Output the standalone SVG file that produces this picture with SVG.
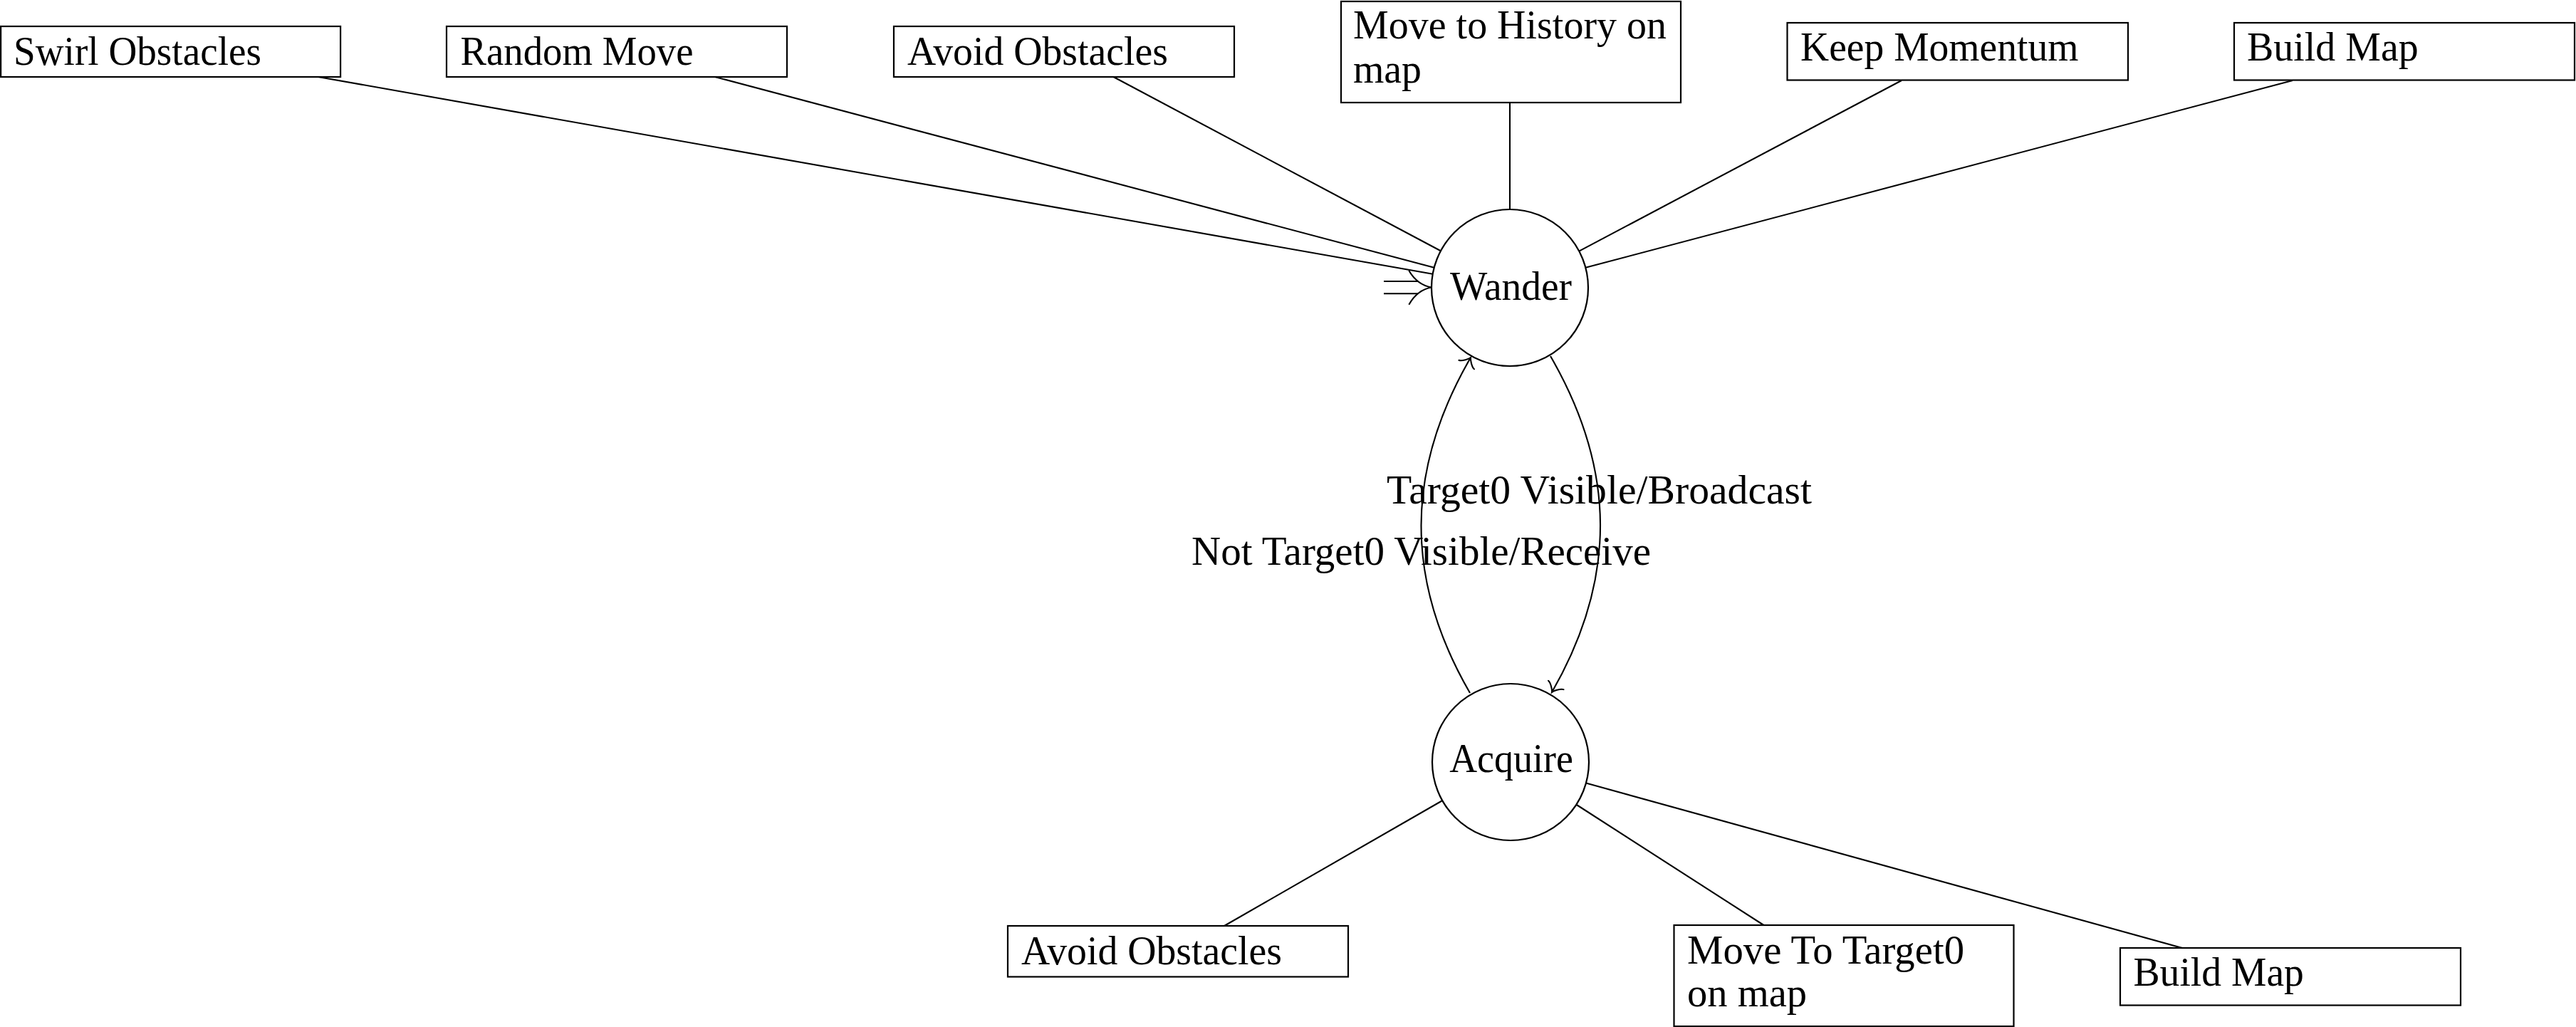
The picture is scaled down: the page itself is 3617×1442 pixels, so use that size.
<svg xmlns="http://www.w3.org/2000/svg" width="3617" height="1442" viewBox="0 0 3617 1442">
  <style>
    .box { fill: #fff; stroke: #000; stroke-width: 2.2; }
    .state { fill: #fff; stroke: #000; stroke-width: 2.2; }
    .t { font-family: "Liberation Serif", "DejaVu Serif", serif; font-size: 56px; fill: #000; }
    .mid { text-anchor: middle; }
    .edge { fill: none; stroke: #000; stroke-width: 2.1; }
  </style>
  <defs>
    <marker id="to" markerUnits="userSpaceOnUse" markerWidth="40" markerHeight="40" viewBox="-20 -20 40 40" refX="0" refY="0" orient="auto" overflow="visible">
      <path d="M-11.6,-12.4 C-10.9,-7.75 -2.3,-0.8 0,0 C-2.3,0.8 -10.9,7.75 -11.6,12.4" fill="none" stroke="#000" stroke-width="2.1" stroke-linecap="round"/>
    </marker>
  </defs>
  <rect width="3617" height="1442" fill="#fff"/>

  <g id="connectors">
    <line class="edge" x1="447" y1="108" x2="2011.7" y2="384.8"/>
    <line class="edge" x1="1004" y1="108" x2="2013.7" y2="375.8"/>
    <line class="edge" x1="1563.5" y1="108" x2="2022.9" y2="352.3"/>
    <line class="edge" x1="2120" y1="144" x2="2120" y2="294"/>
    <line class="edge" x1="2670" y1="113" x2="2217.2" y2="352.6"/>
    <line class="edge" x1="3219" y1="113" x2="2226.3" y2="375.8"/>
    <line class="edge" x1="1719" y1="1300" x2="2024.5" y2="1124.5"/>
    <line class="edge" x1="2476.5" y1="1299" x2="2213" y2="1129.5"/>
    <line class="edge" x1="3064" y1="1331" x2="2227" y2="1099.5"/>
    <path class="edge" d="M2177,500 C2269,659 2271,812 2179,972" marker-end="url(#to)"/>
    <path class="edge" d="M2064,973 C1972,814 1973,661 2065,502" marker-end="url(#to)"/>
    <g id="initial">
      <line class="edge" x1="1943" y1="395" x2="1991" y2="395" stroke-width="2.4"/>
      <line class="edge" x1="1943" y1="412.3" x2="1991" y2="412.3" stroke-width="2.4"/>
      <path class="edge" d="M1978.3,380 Q1990,400 2010,403.5 Q1990,407 1978.3,427.7"/>
    </g>
    <text class="t" x="1947" y="707" textLength="597" lengthAdjust="spacingAndGlyphs">Target0 Visible/Broadcast</text>
    <text class="t" x="1673" y="793" textLength="645" lengthAdjust="spacingAndGlyphs">Not Target0 Visible/Receive</text>
  </g>

  <g id="swirl-obstacles">
    <rect class="box" x="1.1" y="37" width="477" height="71"/>
    <text class="t" x="19" y="91" textLength="348" lengthAdjust="spacingAndGlyphs">Swirl Obstacles</text>
  </g>
  <g id="random-move">
    <rect class="box" x="627" y="37" width="478" height="71"/>
    <text class="t" x="646.5" y="91" textLength="327" lengthAdjust="spacingAndGlyphs">Random Move</text>
  </g>
  <g id="avoid-obstacles-top">
    <rect class="box" x="1255" y="37" width="478" height="71"/>
    <text class="t" x="1274" y="91" textLength="366" lengthAdjust="spacingAndGlyphs">Avoid Obstacles</text>
  </g>
  <g id="move-to-history">
    <rect class="box" x="1883" y="2" width="477" height="142"/>
    <text class="t" x="1900" y="54" textLength="440" lengthAdjust="spacingAndGlyphs">Move to History on</text>
    <text class="t" x="1900" y="116" textLength="96" lengthAdjust="spacingAndGlyphs">map</text>
  </g>
  <g id="keep-momentum">
    <rect class="box" x="2509.5" y="32" width="478.5" height="80.5"/>
    <text class="t" x="2528" y="85" textLength="390.5" lengthAdjust="spacingAndGlyphs">Keep Momentum</text>
  </g>
  <g id="build-map-top">
    <rect class="box" x="3137" y="32" width="478" height="80.5"/>
    <text class="t" x="3155" y="85" textLength="240.7" lengthAdjust="spacingAndGlyphs">Build Map</text>
  </g>

  <g id="wander">
    <circle class="state" cx="2120" cy="404" r="110"/>
    <text class="t mid" x="2121.5" y="421" textLength="171" lengthAdjust="spacingAndGlyphs">Wander</text>
  </g>
  <g id="acquire">
    <circle class="state" cx="2121" cy="1070" r="110"/>
    <text class="t mid" x="2122" y="1084" textLength="173.7" lengthAdjust="spacingAndGlyphs">Acquire</text>
  </g>

  <g id="avoid-obstacles-bottom">
    <rect class="box" x="1415" y="1300" width="478" height="71.5"/>
    <text class="t" x="1434" y="1354" textLength="366" lengthAdjust="spacingAndGlyphs">Avoid Obstacles</text>
  </g>
  <g id="move-to-target0">
    <rect class="box" x="2350.5" y="1299" width="477" height="142"/>
    <text class="t" x="2369" y="1353" textLength="389" lengthAdjust="spacingAndGlyphs">Move To Target0</text>
    <text class="t" x="2369" y="1413" textLength="168" lengthAdjust="spacingAndGlyphs">on map</text>
  </g>
  <g id="build-map-bottom">
    <rect class="box" x="2977" y="1331" width="478" height="80.5"/>
    <text class="t" x="2995.5" y="1384" textLength="239.4" lengthAdjust="spacingAndGlyphs">Build Map</text>
  </g>
</svg>
